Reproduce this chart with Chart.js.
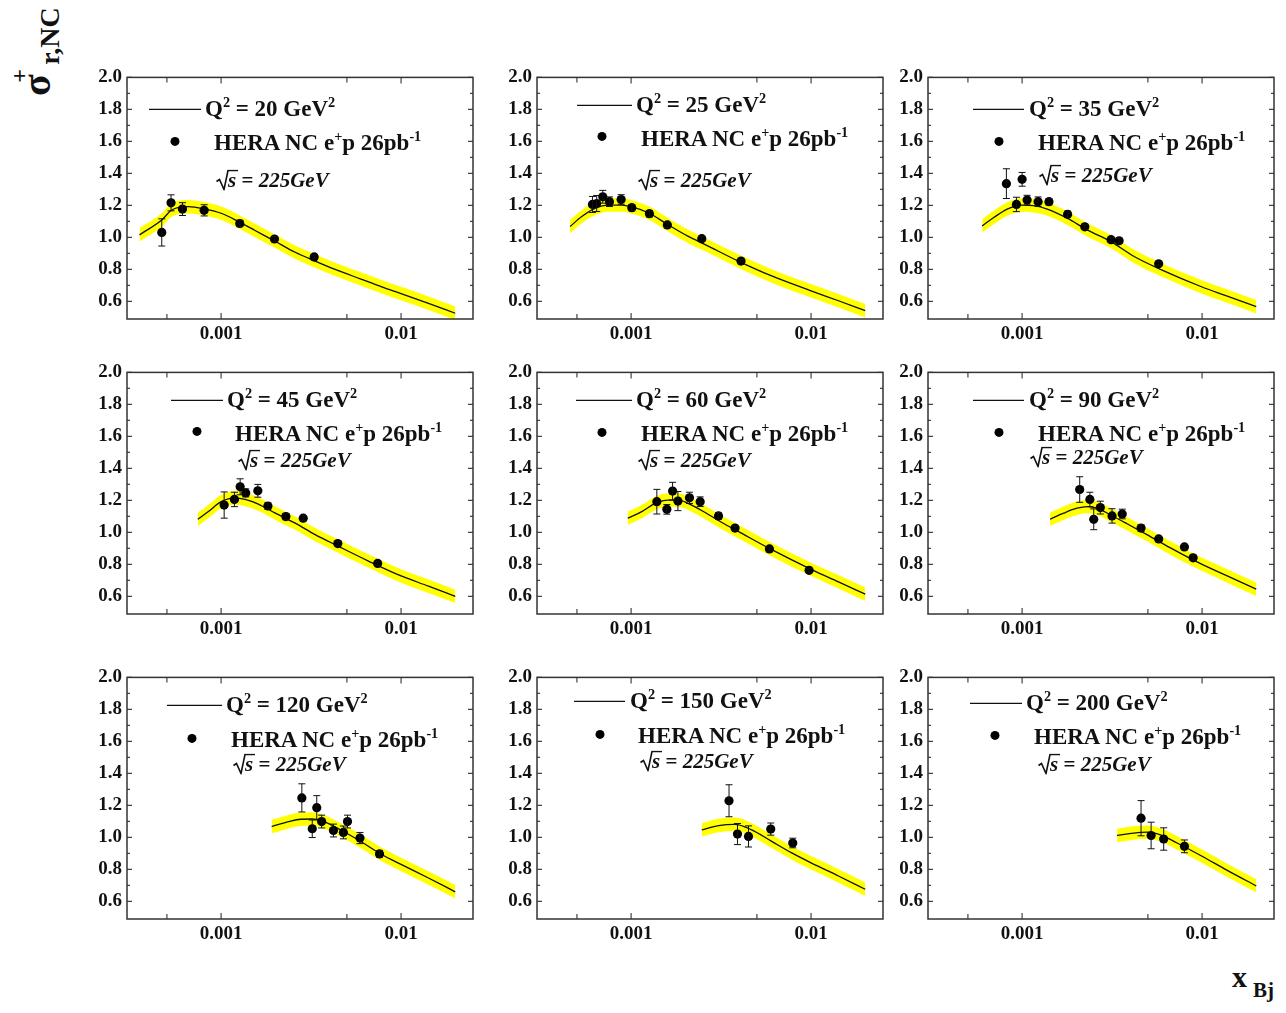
<!DOCTYPE html>
<html lang="en">
<head>
<meta charset="UTF-8">
<title>Reduced NC cross section vs x</title>
<script src="https://cdn.jsdelivr.net/npm/chart.js"></script>
<style>
    body {
        margin: 0;
        width: 1286px;
        height: 1013px;
        position: relative;
        overflow: hidden;
        background: #fff;
        font-family: "Liberation Serif", "Times New Roman", serif;
        color: #111;
    }
    .panel { position: absolute; }
    .panel canvas { position: absolute; left: 0; top: 0; }
    .lbl {
        position: absolute;
        white-space: nowrap;
        line-height: 1;
        font-weight: bold;
        transform: translateY(-50%);
    }
    .lbl sup { font-size: 0.62em; vertical-align: 0.62em; line-height: 0; }
    .sq { padding-left: 12px; font-size: 21px; }
    .sq svg { position: absolute; left: 0; top: 0; }
    .title { position: absolute; white-space: nowrap; line-height: 1; font-weight: bold; }
</style>
</head>
<body>
<div id="grid"></div>
<div class="title" style="left:0;top:0;width:1px;height:1px;">
    <span style="position:absolute;left:37px;top:85px;transform:translate(-50%,-50%) rotate(-90deg);font-size:40px;">σ</span>
    <span style="position:absolute;left:19px;top:76px;transform:translate(-50%,-50%) rotate(-90deg);font-size:24px;">+</span>
    <span style="position:absolute;left:50px;top:36px;transform:translate(-50%,-50%) rotate(-90deg);font-size:28px;">r,NC</span>
</div>
<div class="title" style="left:1232px;top:962px;font-size:30px;">x</div>
<div class="title" style="left:1253px;top:980px;font-size:21px;">Bj</div>

<script>
    // Q^2 of each panel
    const q2Values = [20, 25, 35, 45, 60, 90, 120, 150, 200];

    // HERA points: x, sigma_r, error
    const pointX = [
        [4.68e-4, 5.27e-4, 6.10e-4, 8.05e-4, 1.27e-3, 1.98e-3, 3.29e-3],
        [6.10e-4, 6.44e-4, 6.96e-4, 7.58e-4, 8.80e-4, 1.009e-3, 1.264e-3, 1.59e-3, 2.47e-3, 4.08e-3],
        [8.18e-4, 9.3e-4, 1.0e-3, 1.066e-3, 1.227e-3, 1.41e-3, 1.79e-3, 2.23e-3, 3.12e-3, 3.46e-3, 5.74e-3],
        [1.04e-3, 1.186e-3, 1.276e-3, 1.37e-3, 1.60e-3, 1.82e-3, 2.29e-3, 2.86e-3, 4.45e-3, 7.41e-3],
        [1.39e-3, 1.58e-3, 1.70e-3, 1.82e-3, 2.11e-3, 2.42e-3, 3.06e-3, 3.78e-3, 5.87e-3, 9.75e-3],
        [2.09e-3, 2.38e-3, 2.50e-3, 2.72e-3, 3.16e-3, 3.6e-3, 4.58e-3, 5.74e-3, 7.98e-3, 8.92e-3],
        [2.81e-3, 3.21e-3, 3.40e-3, 3.62e-3, 4.21e-3, 4.78e-3, 5.04e-3, 5.91e-3, 7.59e-3],
        [3.50e-3, 3.90e-3, 4.49e-3, 5.97e-3, 7.91e-3],
        [4.58e-3, 5.21e-3, 6.12e-3, 7.98e-3]
    ];
    const pointY = [
        [1.031, 1.216, 1.177, 1.169, 1.087, 0.99, 0.878],
        [1.206, 1.212, 1.254, 1.223, 1.237, 1.186, 1.148, 1.078, 0.992, 0.852],
        [1.336, 1.206, 1.363, 1.233, 1.223, 1.223, 1.144, 1.066, 0.986, 0.979, 0.835],
        [1.171, 1.206, 1.285, 1.247, 1.26, 1.165, 1.099, 1.089, 0.93, 0.806],
        [1.192, 1.144, 1.258, 1.196, 1.216, 1.192, 1.103, 1.027, 0.897, 0.763],
        [1.268, 1.206, 1.082, 1.155, 1.103, 1.115, 1.027, 0.959, 0.909, 0.841],
        [1.247, 1.054, 1.186, 1.099, 1.043, 1.031, 1.099, 0.996, 0.897],
        [1.229, 1.021, 1.006, 1.052, 0.965],
        [1.12, 1.012, 0.99, 0.944]
    ];
    const pointErr = [
        [0.085, 0.05, 0.04, 0.035, 0.02, 0.015, 0.012],
        [0.05, 0.05, 0.04, 0.03, 0.03, 0.02, 0.02, 0.015, 0.015, 0.01],
        [0.093, 0.045, 0.043, 0.03, 0.03, 0.02, 0.02, 0.015, 0.015, 0.015, 0.012],
        [0.082, 0.045, 0.05, 0.025, 0.04, 0.02, 0.02, 0.015, 0.012, 0.012],
        [0.077, 0.03, 0.055, 0.06, 0.035, 0.03, 0.02, 0.015, 0.012, 0.012],
        [0.08, 0.045, 0.065, 0.04, 0.045, 0.03, 0.02, 0.015, 0.015, 0.015],
        [0.088, 0.055, 0.075, 0.04, 0.04, 0.04, 0.04, 0.035, 0.02],
        [0.1, 0.066, 0.066, 0.038, 0.03],
        [0.11, 0.083, 0.07, 0.04]
    ];

    // theory curve
    const curveX = [
        [3.52e-4, 4.68e-4, 5.32e-4, 6.59e-4, 8.15e-4, 1.0e-3, 1.25e-3, 1.545e-3, 2.0e-3, 2.58e-3, 3.33e-3, 4.30e-3, 6.04e-3, 7.81e-3, 1.0e-2, 1.42e-2, 2.0e-2],
        [4.58e-4, 5.32e-4, 6.3e-4, 7.48e-4, 8.88e-4, 1.0e-3, 1.262e-3, 1.61e-3, 2.08e-3, 2.58e-3, 3.94e-3, 6.04e-3, 1.0e-2, 1.42e-2, 2.0e-2],
        [6.0e-4, 6.96e-4, 8.26e-4, 1.0e-3, 1.16e-3, 1.38e-3, 1.78e-3, 2.30e-3, 3.1e-3, 4.17e-3, 5.87e-3, 1.0e-2, 1.38e-2, 2.0e-2],
        [7.42e-4, 8.5e-4, 1.0e-3, 1.196e-3, 1.36e-3, 1.61e-3, 2.0e-3, 2.58e-3, 3.33e-3, 4.49e-3, 6.59e-3, 1.0e-2, 1.42e-2, 2.0e-2],
        [9.58e-4, 1.146e-3, 1.36e-3, 1.61e-3, 1.83e-3, 2.17e-3, 2.58e-3, 3.19e-3, 3.94e-3, 5.79e-3, 1.0e-2, 1.42e-2, 2.0e-2],
        [1.43e-3, 1.70e-3, 2.02e-3, 2.30e-3, 2.61e-3, 3.1e-3, 3.83e-3, 4.94e-3, 6.67e-3, 1.0e-2, 1.38e-2, 2.0e-2],
        [1.91e-3, 2.27e-3, 2.69e-3, 3.19e-3, 3.78e-3, 4.68e-3, 6.04e-3, 7.81e-3, 1.0e-2, 1.42e-2, 2.0e-2],
        [2.47e-3, 3.06e-3, 3.78e-3, 4.68e-3, 6.04e-3, 7.81e-3, 1.0e-2, 1.42e-2, 2.0e-2],
        [3.37e-3, 4.17e-3, 4.94e-3, 5.87e-3, 7.27e-3, 1.0e-2, 1.38e-2, 2.0e-2]
    ];
    const curveY = [
        [1.016, 1.109, 1.171, 1.192, 1.177, 1.151, 1.099, 1.043, 0.975, 0.907, 0.852, 0.8, 0.738, 0.691, 0.649, 0.588, 0.526],
        [1.068, 1.13, 1.181, 1.202, 1.202, 1.192, 1.151, 1.078, 1.006, 0.955, 0.852, 0.759, 0.666, 0.604, 0.542],
        [1.072, 1.124, 1.177, 1.202, 1.198, 1.177, 1.12, 1.047, 0.975, 0.882, 0.80, 0.69, 0.633, 0.567],
        [1.082, 1.13, 1.192, 1.216, 1.206, 1.177, 1.12, 1.058, 0.986, 0.913, 0.821, 0.728, 0.664, 0.6],
        [1.089, 1.13, 1.181, 1.202, 1.202, 1.171, 1.124, 1.062, 1.006, 0.903, 0.769, 0.691, 0.614],
        [1.082, 1.12, 1.151, 1.161, 1.151, 1.109, 1.054, 0.986, 0.903, 0.80, 0.728, 0.645],
        [1.068, 1.092, 1.112, 1.115, 1.095, 1.043, 0.971, 0.893, 0.831, 0.746, 0.66],
        [1.047, 1.074, 1.082, 1.047, 0.975, 0.903, 0.841, 0.759, 0.676],
        [1.012, 1.027, 1.033, 1.016, 0.965, 0.882, 0.794, 0.697]
    ];
    // half width of the yellow uncertainty band
    const bandHalf = [0.042, 0.042, 0.042, 0.042, 0.042, 0.042, 0.042, 0.042, 0.042];

    const xTickValues = [0.001, 0.01];
    const xTickLabels = ['0.001', '0.01'];
    const xMinorTicks = [0.0005, 0.005];
    const yTickValues = [0.6, 0.8, 1.0, 1.2, 1.4, 1.6, 1.8, 2.0];
    const yMinorTicks = [0.7, 0.9, 1.1, 1.3, 1.5, 1.7, 1.9];

    // layout
    const X_MIN = 3.0e-4, X_MAX = 0.0251, Y_MIN = 0.49, Y_MAX = 2.0;
    const colLeft = [127, 537, 928];
    const rowTop = [76, 371, 676];
    const PLOT_W = 346, PLOT_H = 243;
    const PAD_L = 45, PAD_T = 15, PAD_R = 10, PAD_B = 35;

    // legend placement inside each plot: line x1,x2,y / dot x,y / text starts
    const legendPos = [
        {l: [22, 74, 32], q: 76, d: [48, 64], h: [87, 66], s: [89, 104]},
        {l: [40, 95, 28], q: 97, d: [65, 59], h: [104, 62], s: [101, 104]},
        {l: [45, 96, 32], q: 99, d: [71, 64], h: [110, 66], s: [111, 99]},
        {l: [44, 96, 28], q: 98, d: [70, 59], h: [108, 62], s: [111, 89]},
        {l: [39, 95, 28], q: 97, d: [65, 60], h: [104, 62], s: [101, 89]},
        {l: [45, 96, 28], q: 99, d: [71, 60], h: [110, 62], s: [102, 86]},
        {l: [40, 95, 28], q: 97, d: [65, 61], h: [104, 63], s: [106, 88]},
        {l: [37, 88, 24], q: 91, d: [63, 57], h: [101, 59], s: [103, 85]},
        {l: [42, 94, 26], q: 96, d: [67, 58], h: [106, 60], s: [110, 88]}
    ];

    const tickFont = {family: 'Liberation Serif', weight: 'bold', size: 19};

    const panelPlugin = {
        id: 'panelDecor',
        afterDatasetsDraw(chart) {
            const ctx = chart.ctx;
            const ys = chart.scales.y;
            const idx = chart.options.panelIndex;
            const meta = chart.getDatasetMeta(3);
            ctx.save();
            ctx.strokeStyle = '#111';
            ctx.lineWidth = 1;
            meta.data.forEach((el, i) => {
                const e = pointErr[idx][i];
                const y1 = ys.getPixelForValue(pointY[idx][i] + e);
                const y2 = ys.getPixelForValue(pointY[idx][i] - e);
                ctx.beginPath();
                ctx.moveTo(el.x, y1); ctx.lineTo(el.x, y2);
                ctx.moveTo(el.x - 3.5, y1); ctx.lineTo(el.x + 3.5, y1);
                ctx.moveTo(el.x - 3.5, y2); ctx.lineTo(el.x + 3.5, y2);
                ctx.stroke();
            });
            ctx.restore();
        },
        afterDraw(chart) {
            const ctx = chart.ctx;
            const a = chart.chartArea;
            const xs = chart.scales.x, ys = chart.scales.y;
            const lp = legendPos[chart.options.panelIndex];
            ctx.save();
            // ticks pointing inward on all four sides
            ctx.strokeStyle = '#444';
            ctx.lineWidth = 1.2;
            ctx.beginPath();
            const xt = (v, len) => {
                const p = xs.getPixelForValue(v);
                ctx.moveTo(p, a.bottom); ctx.lineTo(p, a.bottom - len);
                ctx.moveTo(p, a.top); ctx.lineTo(p, a.top + len);
            };
            const yt = (v, len) => {
                const p = ys.getPixelForValue(v);
                ctx.moveTo(a.left, p); ctx.lineTo(a.left + len, p);
                ctx.moveTo(a.right, p); ctx.lineTo(a.right - len, p);
            };
            xTickValues.forEach(v => xt(v, 6));
            xMinorTicks.forEach(v => xt(v, 5));
            yTickValues.forEach(v => yt(v, 5));
            yMinorTicks.forEach(v => yt(v, 3));
            ctx.stroke();
            // frame
            ctx.strokeStyle = '#333';
            ctx.lineWidth = 1.5;
            ctx.strokeRect(a.left, a.top, a.right - a.left, a.bottom - a.top);
            // legend symbols
            ctx.strokeStyle = '#111';
            ctx.lineWidth = 1.3;
            ctx.beginPath();
            ctx.moveTo(a.left + lp.l[0], a.top + lp.l[2]);
            ctx.lineTo(a.left + lp.l[1], a.top + lp.l[2]);
            ctx.stroke();
            ctx.fillStyle = '#000';
            ctx.beginPath();
            ctx.arc(a.left + lp.d[0], a.top + lp.d[1], 4.5, 0, Math.PI * 2);
            ctx.fill();
            ctx.restore();
        }
    };

    const grid = document.getElementById('grid');

    q2Values.forEach((q2, idx) => {
        const col = idx % 3, row = Math.floor(idx / 3);
        const W = PAD_L + PLOT_W + PAD_R, H = PAD_T + PLOT_H + PAD_B;
        const box = document.createElement('div');
        box.className = 'panel';
        box.style.left = (colLeft[col] - PAD_L) + 'px';
        box.style.top = (rowTop[row] - PAD_T) + 'px';
        box.style.width = W + 'px';
        box.style.height = H + 'px';
        const canvas = document.createElement('canvas');
        canvas.width = W; canvas.height = H;
        canvas.style.width = W + 'px'; canvas.style.height = H + 'px';
        box.appendChild(canvas);

        const lp = legendPos[idx];
        const addLabel = (x, y, html, cls, size) => {
            const s = document.createElement('span');
            s.className = 'lbl' + (cls ? ' ' + cls : '');
            s.style.left = (PAD_L + x) + 'px';
            s.style.top = (PAD_T + y) + 'px';
            if (size) s.style.fontSize = size + 'px';
            s.innerHTML = html;
            box.appendChild(s);
        };
        addLabel(lp.q + 2, lp.l[2], 'Q<sup>2</sup> = ' + q2 + ' GeV<sup>2</sup>', '', 23);
        addLabel(lp.h[0], lp.h[1], 'HERA NC e<sup>+</sup>p 26pb<sup>-1</sup>', '', 23);
        addLabel(lp.s[0], lp.s[1],
            '<svg width="22" height="21" viewBox="0 0 22 21"><path d="M0.5 12 L3.5 10 L8 20 L12 1 L22 1" fill="none" stroke="#111" stroke-width="1.6"/></svg>' +
            '<i>s</i> = <i>225GeV</i>', 'sq');
        grid.appendChild(box);

        const curve = curveX[idx].map((x, i) => ({x: x, y: curveY[idx][i]}));
        const upper = curveX[idx].map((x, i) => ({x: x, y: curveY[idx][i] + bandHalf[idx]}));
        const lower = curveX[idx].map((x, i) => ({x: x, y: curveY[idx][i] - bandHalf[idx]}));
        const pts = pointX[idx].map((x, i) => ({x: x, y: pointY[idx][i]}));

        new Chart(canvas.getContext('2d'), {
            type: 'line',
            data: {
                datasets: [
                    {data: upper, borderWidth: 0, pointRadius: 0, fill: '+1', backgroundColor: '#ffff00',
                     cubicInterpolationMode: 'monotone', order: 4},
                    {data: lower, borderWidth: 0, pointRadius: 0, fill: false,
                     cubicInterpolationMode: 'monotone', order: 3},
                    {data: curve, borderColor: '#111', borderWidth: 1.3, pointRadius: 0, fill: false,
                     cubicInterpolationMode: 'monotone', order: 2},
                    {data: pts, showLine: false, pointRadius: 4.6, pointBackgroundColor: '#000',
                     pointBorderWidth: 0, pointBorderColor: '#000', order: 1}
                ]
            },
            options: {
                panelIndex: idx,
                responsive: false,
                animation: false,
                devicePixelRatio: 1,
                layout: {padding: {left: 0, top: PAD_T, right: PAD_R, bottom: 0}},
                plugins: {legend: {display: false}, tooltip: {enabled: false}},
                scales: {
                    x: {
                        type: 'logarithmic',
                        min: X_MIN, max: X_MAX,
                        grid: {display: false, drawTicks: false},
                        border: {display: false},
                        afterBuildTicks: s => { s.ticks = xTickValues.map(v => ({value: v})); },
                        afterFit: s => { s.height = PAD_B; },
                        ticks: {
                            font: tickFont, color: '#111', padding: 4,
                            maxRotation: 0, autoSkip: false,
                            callback: (v, i) => xTickLabels[i]
                        }
                    },
                    y: {
                        min: Y_MIN, max: Y_MAX,
                        grid: {display: false, drawTicks: false},
                        border: {display: false},
                        afterBuildTicks: s => { s.ticks = yTickValues.map(v => ({value: v})); },
                        afterFit: s => { s.width = PAD_L; },
                        ticks: {
                            font: tickFont, color: '#111', padding: 5,
                            callback: v => v.toFixed(1)
                        }
                    }
                }
            },
            plugins: [panelPlugin]
        });
    });
</script>
</body>
</html>
